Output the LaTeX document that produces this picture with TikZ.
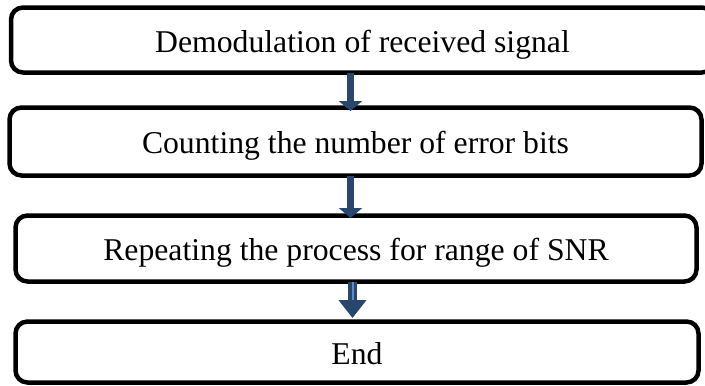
\documentclass[tikz,border=0pt]{standalone}
\usepackage{fontspec}
\setmainfont{Liberation Serif}
\usetikzlibrary{arrows.meta}
\usetikzlibrary{calc}
\definecolor{arrowblue}{RGB}{41,70,110}
\definecolor{arrowlight}{RGB}{92,140,200}

\begin{document}
\begin{tikzpicture}[x=1pt,y=1pt,yscale=-1,
  procbox/.style={draw, line width=4.5pt, rounded corners=12pt, outer sep=0pt, inner sep=0pt,
    font=\fontsize{31.7}{38}\selectfont, text height=24pt, text depth=0pt},
  flowarrow/.style={arrowblue, line width=7pt, -{Triangle[length=10pt,width=23pt]}}]
\useasboundingbox (0,0) rectangle (705,386);

%Flowchart: Process
\node [procbox, minimum width=703pt, minimum height=65pt] (demod) at (362.5,40) {Demodulation of received signal};
%Flowchart: Process
\node [procbox, minimum width=692pt, minimum height=68pt] (count) at (355.5,141.5) {Counting the number of error bits};
%Flowchart: Process
\node [procbox, minimum width=681pt, minimum height=66pt] (repeat) at (356,248.5) {Repeating the process for range of SNR};
%Flowchart: Process
\node [procbox, minimum width=683pt, minimum height=61pt] (end) at (357,352) {End};

%Block Arrows
\coordinate (axa) at (350.5,0);
\coordinate (axb) at (352.5,0);
\draw [flowarrow] (axa |- demod.south) -- ($(axa |- count.north)+(0,3.5)$);
\draw [flowarrow] (axa |- count.south) -- ($(axa |- repeat.north)+(0,2.5)$);
\draw [flowarrow, line width=9pt, -{Triangle[length=18pt,width=27pt]}] (axb |- repeat.south) -- ($(axb |- end.north)+(0,-3.5)$);
\draw [arrowlight, line width=2pt] (axb |- repeat.south) -- ($(axb |- repeat.south)+(0,18)$);

\end{tikzpicture}
\end{document}
